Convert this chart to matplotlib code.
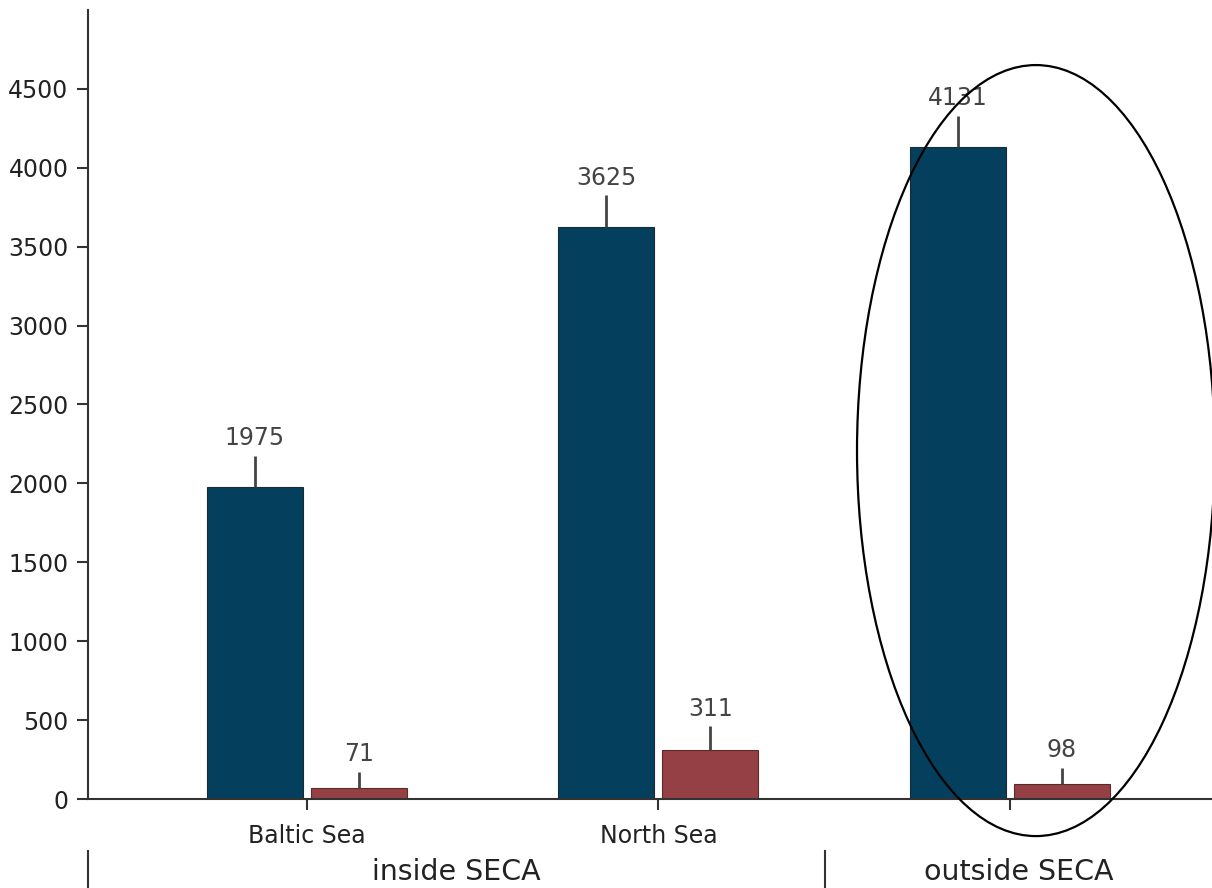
import numpy as np
import matplotlib.pyplot as plt
from matplotlib.patches import Ellipse
from matplotlib.lines import Line2D
import matplotlib.transforms as mtransforms

###### DATA ######
seas = ["Baltic Sea", "North Sea", ""]
zones = ["inside SECA", "outside SECA"]
blue_vals = [1975, 3625, 4131]
blue_err = [200, 200, 200]
red_vals = [71, 311, 98]
red_err = [100, 150, 100]

blue_col = "#04405e"
red_col = "#954044"

###### PLOT ######
plt.rcParams['font.family'] = ['Verdana', 'DejaVu Sans']

fig = plt.figure(figsize=(12.12, 8.88), dpi=100)
ax = fig.add_axes([88/1212, 89/888, 1 - 88/1212, (799-10)/888])

x = np.arange(len(seas))
w = 0.273
off = 0.148

ax.bar(x - off, blue_vals, w, color=blue_col, edgecolor="#1a2a33", linewidth=0.8, zorder=2)
ax.bar(x + off, red_vals, w, color=red_col, edgecolor="#5a2a2c", linewidth=0.8, zorder=2)

# one-sided error whiskers
ax.errorbar(x - off, blue_vals, yerr=[np.zeros(3), blue_err], fmt="none",
            ecolor="#444444", elinewidth=2, capsize=0, zorder=3)
ax.errorbar(x + off, red_vals, yerr=[np.zeros(3), red_err], fmt="none",
            ecolor="#444444", elinewidth=2, capsize=0, zorder=3)

for i in range(len(x)):
    ax.annotate(str(blue_vals[i]), (x[i] - off, blue_vals[i] + blue_err[i]),
                xytext=(0, 4), textcoords="offset points", ha="center", va="bottom",
                fontsize=17, color="#444444")
    ax.annotate(str(red_vals[i]), (x[i] + off, red_vals[i] + red_err[i]),
                xytext=(0, 4), textcoords="offset points", ha="center", va="bottom",
                fontsize=17, color="#444444")

ax.set_xlim(-0.623, 2.575)
ax.set_ylim(0, 5000)
ax.set_yticks(np.arange(0, 5000, 500))
ax.set_xticks(x)
ax.set_xticklabels(seas)
ax.tick_params(axis="both", labelsize=17, colors="#222222", length=8, width=1.5, color="#333333")
ax.tick_params(axis="x", pad=10)
ax.tick_params(axis="y", pad=6)

for s in ["top", "right"]:
    ax.spines[s].set_visible(False)
for s in ["left", "bottom"]:
    ax.spines[s].set_linewidth(1.5)
    ax.spines[s].set_color("#333333")

# highlight ellipse round the outside SECA group
ell = Ellipse((2.074, 2208), 1.018, 4886, fill=False, edgecolor="black",
              linewidth=1.6, clip_on=False, zorder=4)
ax.add_patch(ell)

# second level category labels
trans = mtransforms.blended_transform_factory(ax.transData, fig.transFigure)
for xs in [-0.623, 1.474]:
    fig.add_artist(Line2D([xs, xs], [0, 37/888], transform=trans, color="#333333", linewidth=1.5))
ax.text((-0.623 + 1.474) / 2, 16/888, zones[0], transform=trans, ha="center", va="center",
        fontsize=20.5, color="#222222")
ax.text((1.474 + 2.575) / 2, 16/888, zones[1], transform=trans, ha="center", va="center",
        fontsize=20.5, color="#222222")

fig.savefig("out.png", dpi=100)
